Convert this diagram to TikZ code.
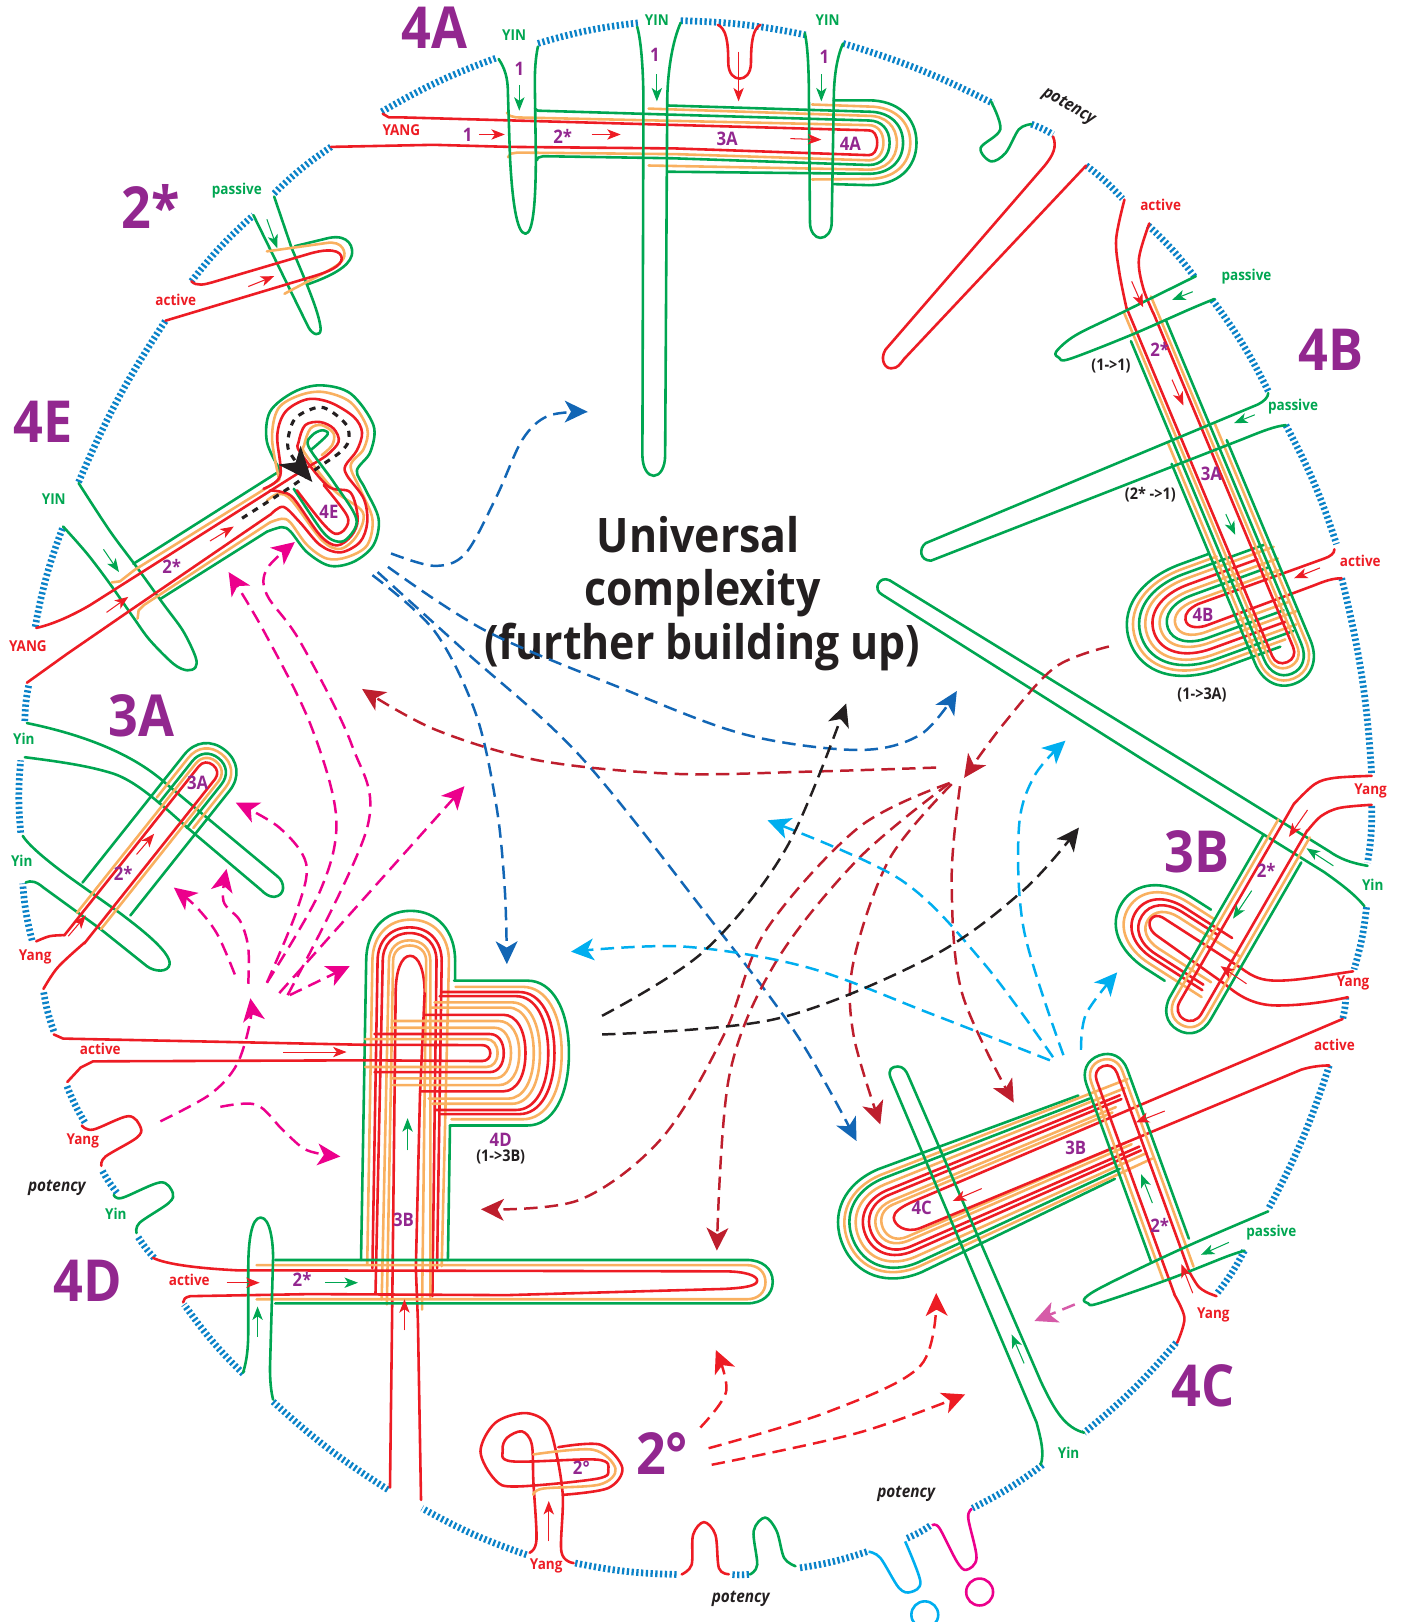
\documentclass[tikz,border=0pt]{standalone}
\usepackage{fontspec}
\setmainfont{Open Sans}
\usetikzlibrary{arrows.meta}
\definecolor{cgreen}{HTML}{00A651}
\definecolor{cred}{HTML}{ED1C24}
\definecolor{corange}{HTML}{F9B060}
\definecolor{cpurple}{HTML}{92278F}
\definecolor{cblack}{HTML}{231F20}
\definecolor{cbound}{HTML}{0A82C8}
\definecolor{cdblue}{HTML}{1266B5}
\definecolor{cdred}{HTML}{BE1E2D}
\definecolor{ccyan}{HTML}{00AEEF}
\definecolor{cmag}{HTML}{EC008C}
\definecolor{cmauve}{HTML}{D65BA8}
\newfontfamily\lf[FakeStretch=.9]{Open Sans}
\newcounter{labn}
\newcommand{\lab}[4]{\stepcounter{labn}\node[#3] (t\arabic{labn}) at (#1,#2) {#4};}
\newcommand{\sm}[2]{\draw[#1] plot[smooth,tension=.55] coordinates {#2};}
\newcommand{\hq}[9]{\draw[#9,shift={(#1,#2)},rotate=#3] (-#4,#6) -- (0,#7) .. controls ({.6*#8},#7) and (#8,{.6*#7}) .. (#8,0) .. controls (#8,{-.6*#7}) and ({.6*#8},-#7) .. (0,-#7) -- (-#5,-#6);}
\newcommand{\hp}[8]{\hq{#1}{#2}{#3}{#4}{#5}{#6}{#6}{#7}{#8}}
\newcommand{\bd}[4]{\draw[bound] (#1,#2) to[bend left=5] (#3,#4);}
\tikzset{
 gl/.style={draw=cgreen,line width=2.5pt,line join=round,line cap=round},
 ol/.style={draw=corange,line width=2.5pt,line join=round,line cap=round},
 rl/.style={draw=cred,line width=2.5pt,line join=round,line cap=round},
 bound/.style={draw=cbound,line width=6.5pt,dash pattern=on 2.2pt off 2.4pt},
 sa/.style={line width=1pt,-{Stealth[length=13pt,width=10pt,inset=3.5pt]}},
 sag/.style={sa,draw=cgreen,{}-{Stealth[length=13pt,width=10pt,inset=3.5pt,fill=cgreen]}},
 sar/.style={sa,draw=cred},
 da/.style={line width=2.4pt,dash pattern=on 13pt off 7pt,-{Stealth[length=22pt,width=21pt,inset=6pt]}},
 big/.style={font=\lf\bfseries\fontsize{56}{56}\selectfont,text=cpurple,inner sep=0pt},
 pu/.style={font=\lf\bfseries\fontsize{18}{18}\selectfont,text=cpurple,inner sep=0pt},
 gt/.style={font=\lf\bfseries\fontsize{14.5}{14.5}\selectfont,text=cgreen,inner sep=0pt},
 rt/.style={font=\lf\bfseries\fontsize{14.5}{14.5}\selectfont,text=cred,inner sep=0pt},
 kt/.style={font=\lf\bfseries\fontsize{15.5}{15.5}\selectfont,text=cblack,inner sep=0pt},
 pot/.style={font=\lf\bfseries\itshape\fontsize{16.5}{16.5}\selectfont,text=cblack,inner sep=0pt},
 title/.style={font=\lf\bfseries\fontsize{46}{46}\selectfont,text=cblack,inner sep=0pt},
}
\begin{document}
\begin{tikzpicture}[x=1pt,y=-1pt]
\useasboundingbox (0,0) rectangle (1354,1568);
% ---- boundary
\bd{369}{108}{480}{56}\bd{520}{42}{618}{22}\bd{658}{20}{780}{34}\bd{815}{42}{960}{100}
\bd{997}{120}{1018}{130}\bd{1050}{160}{1085}{192}\bd{1110}{218}{1155}{268}\bd{1172}{290}{1226}{378}
\bd{1243}{411}{1292}{526}\bd{1297}{559}{1326}{748}\bd{1326}{779}{1322}{834}\bd{1321}{877}{1309}{937}
\bd{1301}{964}{1298}{985}\bd{1285}{1030}{1226}{1169}\bd{1203}{1209}{1176}{1251}\bd{1137}{1298}{1048}{1385}
\bd{1008}{1416}{940}{1458}\bd{899}{1475}{877}{1487}\bd{838}{1500}{771}{1516}\bd{724}{1522}{706}{1522}
\bd{654}{1522}{556}{1511}\bd{509}{1503}{408}{1458}\bd{375}{1440}{264}{1355}\bd{235}{1328}{178}{1261}
\bd{149}{1216}{133}{1195}\bd{113}{1153}{98}{1130}\bd{82}{1085}{64}{1048}\bd{52}{997}{42}{958}
\bd{31}{909}{22}{854}\bd{20}{805}{20}{735}\bd{24}{697}{28}{661}\bd{34}{606}{61}{509}
\bd{76}{466}{160}{310}\bd{185}{272}{245}{208}\bd{265}{187}{320}{142}
% ---- 4A
\hp{840}{138}{0}{0}{0}{41}{46}{gl}\hp{840}{138}{0}{0}{0}{35}{40}{ol}\hp{840}{138}{0}{0}{0}{30}{33}{gl}
\hp{840}{138}{0}{0}{0}{26}{27}{ol}\hp{840}{138}{0}{0}{0}{21.5}{20}{gl}\hp{840}{138}{0}{0}{0}{17}{14}{ol}\hp{840}{138}{0}{0}{0}{12}{8}{rl}
\draw[gl] (806,97)--(840,97) (806,178)--(840,179);
\draw[ol] (785,101)--(840,103) (785,173.5)--(840,173);
\draw[gl] (646,102)--(840,108) (646,166)--(840,168);
\draw[ol] (627,105)--(840,112) (627,160)--(840,164);
\draw[gl] (517,105)--(520,107)--(840,116.5) (840,159.5)--(650,153)--(525,151)--(520,152.5)--(519,155);
\draw[ol] (490,109)--(493,112)--(499,113.5)--(840,121) (840,155)--(653,149)--(500,147.5)--(494,148.5)--(491,152);
\draw[rl] (370,110)--(376,113.5)--(389,113.5)--(840,126) (840,150)--(653,143.5)--(493,142)--(419,140)--(320,142);
\draw[gl] (482,57) .. controls (488,66) and (491,75) .. (491,90) -- (493,152) .. controls (495,190) and (499,226) .. (508,226) .. controls (516,226) and (518,190) .. (518,150) -- (517,80) .. controls (517,65) and (518,55) .. (520,45);
\draw[gl] (616,26) .. controls (620,40) and (622,70) .. (622,100) -- (621,440) .. controls (621,452) and (626,460) .. (632,460) .. controls (638,460) and (643,452) .. (643,440) -- (645,100) .. controls (645,70) and (650,40) .. (658,22);
\draw[gl] (778,32) .. controls (781,45) and (782,70) .. (782,97) -- (783,215) .. controls (783,224) and (788,230) .. (793,230) .. controls (799,230) and (804,224) .. (804,215) -- (806,97) .. controls (806,75) and (809,55) .. (815,42);
\draw[rl] (694,24) .. controls (702,28) and (704,40) .. (704,60) .. controls (704,72) and (710,76) .. (715,76) .. controls (720,76) and (726,72) .. (726,60) .. controls (726,40) and (728,28) .. (735,24);
\draw[sar] (714,50)--(714,98);
\draw[sag] (502,82)--(502,107); \draw[sag] (635,72)--(635,98); \draw[sag] (794,72)--(794,98);
\draw[sar] (463,130)--(488,130); \draw[sar] (572,130)--(600,130); \draw[sar] (764,134)--(794,135);
\lab{420}{27}{big}{4A}
\lab{497}{34}{gt}{YIN}\lab{635}{19}{gt}{YIN}\lab{800}{19}{gt}{YIN}
\lab{502}{67}{pu}{1}\lab{633}{53}{pu}{1}\lab{797}{55}{pu}{1}
\lab{388}{126}{rt}{YANG}\lab{452}{130}{pu}{1}\lab{544}{132}{pu}{2*}\lab{703}{134}{pu}{3A}\lab{822}{139}{pu}{4A}
% ---- potency top right
\sm{gl}{(958,98) (967,125) (948,143) (958,156) (972,148) (985,125) (997,120)}
\draw[rl] (1018,132) .. controls (1022,142) and (1018,150) .. (1010,160) -- (856,338) .. controls (850,348) and (856,357) .. (862,356) .. controls (868,356) and (870,352) .. (874,347) -- (1050,160);
\lab{1033}{103}{pot,rotate=-30}{potency}
% ---- 2*
\draw[gl] (245,208)--(298,316) .. controls (302,324) and (310,326) .. (310,318) .. controls (309,305) and (300,282) .. (282,240) -- (265,190);
\draw[gl] (285,238) -- (318,230) .. controls (338,226) and (342,240) .. (340,247) .. controls (337,258) and (320,267) .. (297,275);
\draw[ol] (258,243) -- (315,235) .. controls (332,232) and (335,245) .. (332,250) .. controls (328,258) and (310,265) .. (275,284);
\draw[rl] (185,272) .. controls (190,277) and (198,275) .. (205,273) -- (300,245) .. controls (325,238) and (332,245) .. (330,252) .. controls (327,260) and (310,265) .. (300,268) -- (160,310);
\draw[sag] (258,212)--(268,240); \draw[sar] (240,277)--(265,267);
\lab{146}{200}{big}{2*}\lab{229}{184}{gt}{passive}\lab{170}{290}{rt}{active}
% ---- 4B
\hp{1160}{596}{200}{28}{63}{54}{72}{gl}\hp{1160}{596}{200}{35}{70}{49}{66}{ol}
\hp{1160}{596}{200}{82}{80}{44}{60}{gl}\hp{1160}{596}{200}{90}{85}{39}{54}{ol}
\hp{1160}{596}{200}{71}{76}{33}{47}{rl}\hp{1160}{596}{200}{90}{89}{27}{40}{ol}
\hp{1160}{596}{200}{78}{78}{22}{33}{gl}\hp{1160}{596}{200}{88}{85}{16}{25}{ol}
\draw[rl] (1290,531) .. controls (1290,535) and (1286,538) .. (1280,540) -- (1158,584) .. controls (1150,588) and (1145,593) .. (1146,599) .. controls (1147,607) and (1158,608) .. (1168,604) -- (1270,566) .. controls (1280,562) and (1288,559) .. (1297,559);
\hp{1240}{630}{-67.3}{209}{209.6}{29}{33}{gl}\hp{1240}{630}{-67.3}{230}{229}{24.5}{28}{ol}
\hp{1240}{630}{-67.3}{333.6}{339.5}{19.5}{23}{gl}\hp{1240}{630}{-67.3}{362}{366}{15}{16}{ol}
\hp{1240}{630}{-67.3}{365}{350}{11}{11}{rl}
\sm{rl}{(1087,193) (1079,231) (1082,263) (1089,298)}
\sm{rl}{(1111,216) (1101,250) (1105,278) (1115,303)}
\sm{gl}{(1156,267) (1085,302) (1040,324) (1021,340) (1024,346) (1034,347) (1093,324) (1150,299) (1174,289)}
\draw[gl] (1226,380) .. controls (1226,384) and (1222,388) .. (1216,391) -- (895,525) .. controls (888,530) and (889,542) .. (900,542) -- (1200,425) .. controls (1220,417) and (1232,412) .. (1243,411);
\draw[sar] (1094,272)--(1105,297); \draw[sar] (1133,367)--(1144,392);
\draw[sag] (1153,282)--(1133,290); \draw[sag] (1213,401)--(1193,409); \draw[sag] (1185,497)--(1194,517);
\draw[sar] (1276,549)--(1251,559);
\lab{1122}{198}{rt}{active}\lab{1205}{267}{gt}{passive}\lab{1250}{393}{gt}{passive}\lab{1315}{542}{rt}{active}
\lab{1121}{338}{pu}{2*}\lab{1171}{458}{pu}{3A}\lab{1163}{594}{pu}{4B}\lab{1287}{338}{big}{4B}
\lab{1074}{354}{kt}{(1->1)}\lab{1112}{478}{kt}{(2* ->1)}\lab{1162}{672}{kt}{(1->3A)}
% ---- 3B
\draw[gl] (1322,837) .. controls (1305,834) and (1295,830) .. (1285,823) -- (1143,735) -- (860,561) .. controls (850,556) and (843,570) .. (853,575) -- (1106,735) -- (1280,843) .. controls (1297,855) and (1310,865) .. (1319,876);
\hp{1130}{902}{147.3}{22}{21.5}{41}{54}{gl}\hp{1130}{902}{147.3}{30}{60}{35}{46}{ol}
\hp{1130}{902}{147.3}{54}{57}{29}{38}{rl}\hp{1130}{902}{147.3}{40}{55}{24}{31}{rl}\hp{1130}{902}{147.3}{70}{60}{18}{24}{ol}
\draw[rl] (1308,939) .. controls (1280,943) and (1255,948) .. (1235,948) .. controls (1220,948) and (1212,945) .. (1200,936) -- (1124,887) .. controls (1115,882) and (1109,890) .. (1112,897) .. controls (1113,900) and (1116,903) .. (1119,905) -- (1185,952) .. controls (1200,965) and (1215,972) .. (1235,972) .. controls (1260,972) and (1285,968) .. (1303,964);
\hp{1151}{974}{240}{180}{175}{22.5}{25}{gl}\hp{1151}{974}{240}{200}{200}{17.5}{19}{ol}\hp{1151}{974}{240}{221}{205}{12}{13}{rl}
\sm{rl}{(1251,777) (1271,758) (1290,752) (1326,750)}
\sm{rl}{(1264,803) (1277,789) (1295,781) (1326,778)}
\draw[sar] (1264,783)--(1246,809); \draw[sag] (1289,837)--(1263,820); \draw[sag] (1210,861)--(1192,888); \draw[sar] (1205,951)--(1180,934);
\lab{1157}{823}{big}{3B}\lab{1325}{765}{rt}{Yang}\lab{1327}{855}{gt}{Yin}\lab{1308}{950}{rt}{Yang}\lab{1224}{841}{pu}{2*}
% ---- 4C
\hq{870}{1180}{203}{206}{207}{44}{54}{60}{gl}\hq{870}{1180}{203}{256}{248}{40}{48}{54}{ol}
\hq{870}{1180}{203}{215}{215}{37}{44}{49}{gl}\hq{870}{1180}{203}{250}{245}{33}{38}{43}{ol}
\hq{870}{1180}{203}{243}{241}{28.5}{32}{36}{rl}\hq{870}{1180}{203}{243}{241}{24.5}{27}{30}{rl}
\hq{870}{1180}{203}{235}{235}{19.5}{21}{24}{ol}\hq{870}{1180}{203}{230}{230}{16}{17}{18}{ol}
\draw[rl] (1298,985) -- (884,1161) .. controls (870,1167) and (864,1172) .. (864,1177) .. controls (864,1184) and (875,1193) .. (890,1187) -- (1258,1034) .. controls (1268,1031) and (1277,1030) .. (1285,1030);
\hp{1070}{1041}{110}{174}{182}{21}{22}{gl}\hp{1070}{1041}{110}{201}{203}{16}{17}{ol}\hp{1070}{1041}{110}{205}{220}{10.5}{11}{rl}
\sm{rl}{(1150,1230) (1158,1243) (1166,1249) (1176,1253)}
\sm{rl}{(1135,1251) (1145,1274) (1138,1298)}
\sm{gl}{(1226,1171) (1156,1201) (1100,1227) (1060,1247) (1048,1256) (1052,1260) (1062,1260) (1129,1237) (1185,1215) (1203,1209)}
\draw[gl] (1006,1416) .. controls (1010,1405) and (1006,1390) .. (1002,1375) -- (861,1042) .. controls (858,1034) and (862,1031) .. (868,1031) .. controls (873,1031) and (876,1035) .. (878,1040) -- (1006,1335) .. controls (1020,1365) and (1030,1380) .. (1048,1385);
\draw[sar] (1126,1074)--(1098,1085); \draw[sar] (949,1149)--(921,1161); \draw[sag] (1114,1163)--(1103,1135);
\draw[sag] (1188,1201)--(1161,1213); \draw[sar] (1153,1250)--(1142,1222); \draw[sag] (990,1318)--(978,1290);
\lab{1290}{1010}{rt}{active}\lab{1040}{1110}{pu}{3B}\lab{891}{1168}{pu}{4C}\lab{1121}{1185}{pu}{2*}
\lab{1229}{1192}{gt}{passive}\lab{1173}{1271}{rt}{Yang}\lab{1163}{1340}{big}{4C}\lab{1033}{1404}{gt}{Yin}
% ---- 4D vertical
\hp{397}{929}{90}{0}{0}{43}{48.5}{gl}\hp{397}{929}{90}{0}{0}{37}{40}{ol}\hp{396}{929}{90}{0}{0}{31}{32.5}{rl}
\hp{396}{929}{90}{0}{0}{26}{27}{rl}\hp{396}{929}{90}{0}{0}{20}{20}{ol}\hp{396}{929}{90}{0}{0}{16}{15}{ol}\hp{396.5}{960}{90}{0}{0}{14}{36}{rl}
\draw[gl] (354,929)--(349,1218) (440,929)--(440,948) (435,1088)--(433,1218);
\draw[ol] (360,929)--(355,1222) (434,929)--(427,1224);
\draw[rl] (365,929)--(360,1226) (427,929)--(422.5,1226);
\draw[rl] (370,929)--(363,1250) (422,929)--(418,1253);
\draw[ol] (376,929)--(369,1256) (416,929)--(416,1254);
\draw[ol] (380,929)--(374,1261) (412,929)--(408,1266);
\draw[rl] (382.5,960)--(379,1277)--(377,1438) (410.5,960)--(406,1058)--(402,1226)--(404,1277)--(407,1450);
% ---- 4D horizontal
\hp{510}{1018}{0}{75}{71}{70}{40}{gl}\hp{505.4}{1018}{0}{69}{65}{64}{37.6}{ol}
\hp{502}{1018}{0}{77}{74}{59}{34}{rl}\hp{499}{1018}{0}{78}{74}{55}{31}{rl}
\hp{495}{1018}{0}{77}{75}{49}{27}{ol}\hp{491.4}{1018}{0}{77}{75}{44}{24.6}{ol}
\hp{486.5}{1018}{0}{80.5}{76.5}{37}{21.5}{rl}\hp{482}{1018}{0}{102}{102}{31}{20}{ol}
\hp{478}{1018}{0}{100}{100}{24.5}{16}{ol}\hp{473.5}{1018}{0}{111.5}{111.5}{18.4}{13.5}{rl}
\hp{470}{1018}{0}{117}{117}{13.5}{11}{ol}\hp{466}{1018}{0}{0}{0}{7.7}{8}{rl}
\draw[rl] (466,1010.3)--(352,1010)--(61,1004)--(52,1000) (466,1025.7)--(352,1025)--(90,1026)--(78,1032)--(65,1046);
% ---- 4D lower
\hp{722}{1239}{0}{456}{456}{21}{25}{gl}\hp{722}{1239.5}{0}{474}{474}{16.5}{18}{ol}
\draw[rl] (148,1216) .. controls (160,1222) and (190,1226) .. (229,1228) -- (700,1229) .. controls (720,1229) and (732,1233) .. (732,1238) .. controls (732,1243) and (720,1245) .. (700,1246) -- (490,1252) -- (300,1251) -- (184,1253) .. controls (179,1254) and (177,1256) .. (177,1259);
\draw[gl] (235,1327) .. controls (240,1310) and (240,1297) .. (240,1280) -- (240,1226) .. controls (240,1200) and (243,1177) .. (252,1177) .. controls (261,1177) and (264,1200) .. (264,1216) -- (261,1322) .. controls (261,1335) and (262,1345) .. (264,1353);
\sm{rl}{(79,1088) (90,1092) (124,1079) (136,1090) (132,1100) (102,1118) (98,1127)}
\sm{gl}{(110,1155) (118,1158) (155,1143) (167,1153) (163,1163) (135,1182) (132,1192)}
\draw[sar] (219,1240)--(251,1240); \draw[sag] (314,1240)--(346,1240); \draw[sag] (249,1292)--(249,1263);
\draw[sar] (391,1286)--(391,1256); \draw[sag] (394,1112)--(394,1081); \draw[sar] (274,1017)--(335,1017);
\lab{390}{1179}{pu}{3B}\lab{484}{1102}{pu}{4D}\lab{484}{1118}{kt}{(1->3B)}\lab{292}{1237}{pu}{2*}
\lab{97}{1014}{rt}{active}\lab{80}{1103}{rt}{Yang}\lab{55}{1148}{pot}{potency}\lab{112}{1173}{gt}{Yin}
\lab{85}{1238}{big}{4D}\lab{183}{1237}{rt}{active}
% ---- 3A
\draw[gl] (26,699) .. controls (70,708) and (125,725) .. (161,758) -- (268,847) .. controls (276,853) and (276,866) .. (265,867) .. controls (260,867) and (256,864) .. (252,860) -- (181,800) .. controls (150,772) and (130,755) .. (110,748) .. controls (85,740) and (55,736) .. (24,732);
\draw[gl] (22,808) .. controls (28,818) and (50,836) .. (77,855) -- (115,882) .. controls (135,897) and (165,920) .. (164,932) .. controls (163,940) and (150,940) .. (142,934) -- (97,898) -- (42,858) .. controls (35,852) and (30,851) .. (25,853);
\hp{200}{747}{51.5}{154}{158}{28}{28}{gl}\hp{200}{747}{51.5}{50}{49}{23}{23}{ol}\hp{200}{747}{51.5}{54}{52}{18}{18}{gl}
\hp{200}{747}{51.5}{182}{184}{14}{14}{ol}\hp{200}{747}{51.5}{203}{209}{10}{9.5}{rl}
\sm{rl}{(35,910) (48,905) (62,904)}
\sm{rl}{(42,956) (56,935) (82,911)}
\draw[sar] (66,905)--(83,885); \draw[sar] (132,826)--(149,806);
\lab{137}{692}{big}{3A}\lab{23}{714}{gt}{Yin}\lab{21}{832}{gt}{Yin}\lab{34}{925}{rt}{Yang}\lab{119}{844}{pu}{2*}\lab{191}{757}{pu}{3A}
% ---- 4E
\sm{gl}{(76,467) (106,513) (132,548) (158,584) (177,610) (189,635) (189,645) (181,648) (168,642) (145,619) (129,597) (106,564) (84,535) (61,509)}
\draw[gl] (129,545)--(271,455) (258,514)--(155,579);
\sm{gl}{(271,455) (258,427) (261,398) (284,379) (310,372.5) (339,380.5) (361,411) (358,437) (345,455) (353,472.5) (366,501.5) (361,527) (342,543) (319,547) (297,534) (281,514) (272.5,509.6) (258,514)}
\draw[ol] (108,563)--(116,562)--(130,551)--(270,464) (261,505)--(139,585)--(134,590)--(133,598);
\sm{ol}{(270,464) (263,424) (269,395) (290,382) (313,379) (339,389) (355,414) (351.6,434) (339,450) (348,472.5) (360,501.5) (355,527) (335.5,538.6) (316,540) (297,527) (280.6,505) (272.5,501.5) (261,505)}
\sm{rl}{(254.8,472.5) (271,459.6) (268,421) (276,398) (297,386) (319,389) (342,403) (350,418) (345,435.4) (334,450) (335.4,459.6) (351.6,482) (355,505) (348,524) (329,534) (309.6,527) (290,505) (274,490) (262,497)}
\draw[rl] (262,497)--(126,590)--(65,632)--(26,660);
\sm{ol}{(311,440) (321,430.5) (322.5,419) (311,411) (300,414.4) (294,430.5) (295,438.6) (323,474) (350.6,495) (345,517.6) (329,530.6) (311,522) (282,483.8) (269.3,477.3) (258,484)}
\draw[rl] (35,607) .. controls (50,604) and (70,595) .. (87,585) -- (300,450);
\sm{rl}{(300,450) (316,440) (327.4,427) (322.6,414.4) (309.6,408) (295,411) (288.7,427.3) (290,437) (317,470) (338.7,476) (345.8,501.5) (340,517.6) (325.8,527.3) (309.6,517.6) (284,482) (272.5,475.7) (261,474)}
\sm{gl}{(300,435.4) (316.7,420) (311,416) (301.6,421) (298.4,432) (322.5,466) (344.5,501.5) (335.4,520.9) (324,523) (311,512.8) (284,472.5)}
\sm{rl}{(313,469) (335.4,498.3) (333.8,511) (324,516) (311,504.7) (287,474)}
\draw[cblack,line width=3pt,dash pattern=on 6pt off 6pt,-{Stealth[length=34pt,width=28pt,inset=9pt]}] plot[smooth,tension=.55] coordinates {(234,501) (279,472) (309,451) (329,437) (337,426) (335,411) (319,397) (306,394) (285,405) (278,429) (284,443.5) (302,466)};
\draw[sag] (100,531)--(115,553); \draw[sar] (103,592)--(124,577); \draw[sar] (203,523)--(226,509);
\lab{42}{408}{big}{4E}\lab{52}{483}{gt}{YIN}\lab{27}{625}{rt}{YANG}\lab{166}{548}{pu}{2*}\lab{318}{495}{pu}{4E}
% ---- 2 degree
\sm{rl}{(512,1501) (518.6,1488.5) (515.6,1432) (514,1396) (504.5,1383.7) (490,1390) (486,1401.4) (495,1412.7) (577,1411) (588,1420.8) (577,1429.5) (499,1437) (478.6,1430.5) (464.5,1403) (478.6,1375.6) (506.4,1366) (527,1374) (536,1396.6) (544,1445) (542.7,1500) (554.5,1511)}
\sm{rl}{(539.7,1399) (580.5,1396.6) (601.6,1419) (587.9,1438.5) (545,1445)}
\sm{ol}{(515.6,1406) (573,1401.4) (595,1419.8) (580,1435) (525,1439) (515.6,1445)}
\draw[sar] (530.5,1490)--(530.5,1451);
\lab{562}{1419}{pu}{2°}\lab{640}{1405}{big}{2°}\lab{528}{1514}{rt}{Yang}
\sm{rl}{(659,1522) (668.6,1512.7) (670,1483.7) (680.5,1471.4) (691.6,1483.7) (695,1516) (704.6,1521.8)}
\sm{gl}{(725,1522) (732,1512.7) (728.6,1480) (739.7,1467) (750.8,1480) (758,1506) (769,1514)}
\sm{draw=ccyan,line width=2.5pt}{(839.7,1500) (851,1506) (869,1535) (880.5,1539) (889.7,1528.8) (875,1490)}
\sm{draw=cmag,line width=2.5pt}{(901,1474.6) (908,1477) (925,1509.5) (934,1517.6) (944,1506) (936,1467.5) (939.7,1458.5)}
\draw[cmag,line width=2.5pt] (947,1539) circle[radius=13pt];
\draw[ccyan,line width=2.5pt] (894,1561) circle[radius=13pt];
\lab{716}{1546}{pot}{potency}\lab{876}{1444}{pot}{potency}
% ---- title
\lab{675}{517}{title}{Universal}\lab{679}{573}{title}{complexity}\lab{679}{625}{title}{(further building up)}
% ---- dashed arrows
\sm{cdblue,da}{(378,535) (420,547) (450,535) (480,480) (505,425) (530,402) (568,398)}
\sm{cdblue,da}{(360,556) (420,610) (460,690) (480,780) (488,860) (490,932)}
\sm{cdblue,da}{(375,548) (470,610) (600,665) (720,710) (830,725) (890,710) (925,668)}
\sm{cdblue,da}{(365,553) (450,630) (560,730) (680,880) (770,1000) (828,1103)}
\sm{cdred,da}{(905,742) (780,746) (650,748) (520,735) (420,705) (350,666)}
\sm{cdred,da}{(1072,625) (1020,645) (970,700) (932,752)}
\sm{cdred,da}{(918,757) (830,800) (740,900) (700,1000) (640,1100) (560,1160) (465,1169)}
\sm{cdred,da}{(918,757) (830,830) (750,930) (705,1040) (693,1209)}
\sm{cdred,da}{(920,758) (860,830) (825,930) (825,1000) (851,1087)}
\sm{cdred,da}{(928,760) (920,850) (930,960) (980,1066)}
\sm{cmag,da}{(258,950) (310,860) (325,790) (300,700) (255,610) (221,553)}
\sm{cmag,da}{(278,962) (355,800) (340,720) (290,620) (258,575) (258,550) (285,524)}
\sm{cmag,da}{(227,942) (210,903) (190,877) (168,858)}
\sm{cmag,da}{(240,951) (240,916) (232,890) (216,871) (219,840)}
\sm{cmag,da}{(258,950) (287,880) (296,835) (270,800) (228,776)}
\sm{cmag,da}{(270,960) (449,760)}
\sm{cmag,da}{(280,962) (338,934)}
\sm{cmag,da}{(155,1084) (203,1058) (229,1029) (242,987) (242,965)}
\sm{cmag,da}{(213,1070) (248,1068) (274,1093) (297,1112) (329,1118)}
\sm{ccyan,da}{(1045,1015) (1050,980) (1080,940)}
\sm{ccyan,da}{(1028,1020) (990,900) (985,800) (1000,750) (1030,716)}
\sm{ccyan,da}{(1018,1022) (950,930) (870,850) (742,793)}
\sm{ccyan,da}{(1015,1025) (900,980) (780,935) (660,915) (552,920)}
\sm{cblack,da}{(582,982) (680,920) (760,820) (818,680)}
\sm{cblack,da}{(582,1000) (750,985) (900,925) (990,860) (1043,800)}
\sm{cred,da}{(677,1380) (702,1345) (692,1305)}
\sm{cred,da}{(685,1400) (800,1365) (890,1320) (905,1250)}
\sm{cred,da}{(688,1416) (830,1385) (933,1348)}
\draw[cmauve,da] (1039,1261)--(1000,1277);
\end{tikzpicture}
\end{document}
